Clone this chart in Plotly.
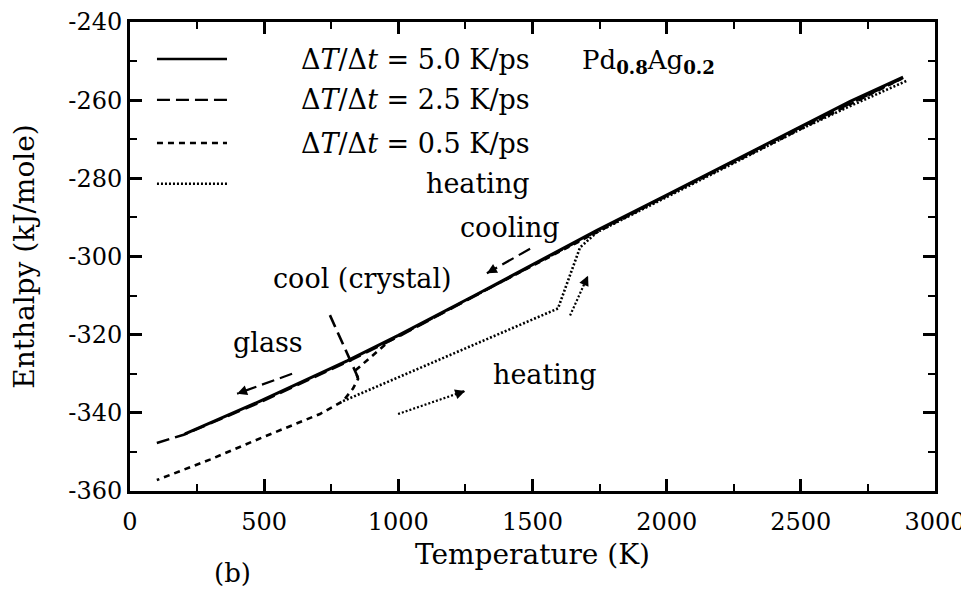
import plotly.graph_objects as go

# ---------------- data ----------------
# cooling 5.0 K/ps (solid)
T_50 = [205, 485, 809, 1000, 1300, 1740, 2000, 2500, 2684, 2881]
H_50 = [-345.4, -337.0, -326.7, -320.2, -309.4, -293.3, -284.3, -266.7, -260.3, -254.1]

# cooling 2.5 K/ps (long dashes)
T_25 = [100, 200, 485, 809, 1000, 1740, 2500, 2881]
H_25 = [-347.7, -345.6, -337.3, -327.0, -320.5, -293.5, -266.9, -254.3]

# cooling 0.5 K/ps (short dashes) - crystallises
T_05 = [2881, 2000, 1300, 969, 839, 850, 831, 794, 708, 500, 300, 100]
H_05 = [-254.3, -284.5, -309.5, -321.5, -329.2, -331.3, -333.8, -337.0, -340.3, -346.1, -351.9, -357.2]

# heating of the crystal (dotted)
T_heat = [794, 1000, 1300, 1595, 1677, 1740, 2000, 2500, 2684, 2896]
H_heat = [-337.0, -330.9, -322.0, -313.3, -297.7, -293.8, -284.8, -267.4, -261.5, -255.0]

# pointer from the "cool (crystal)" label (long dashes)
T_ptr = [745, 850]
H_ptr = [-315.0, -331.0]

# arrows: tail T, tail H, head T, head H, style
ARROW_T0 = [1491, 604, 999, 1640]
ARROW_H0 = [-298.0, -330.0, -340.3, -315.1]
ARROW_T1 = [1330, 399, 1249, 1707]
ARROW_H1 = [-304.3, -335.1, -334.4, -304.9]
ARROW_DASH = ["long", "long", "dot", "dot"]

# text labels in the plot
LABELS = ["cooling", "cool (crystal)", "glass", "heating"]
LABEL_T = [1416, 868, 514, 1547]
LABEL_H = [-292.7, -305.5, -321.9, -330.3]

# legend entries
LEGEND_TEXT = ["Δ<i>T</i>/Δ<i>t</i> = 5.0 K/ps",
               "Δ<i>T</i>/Δ<i>t</i> = 2.5 K/ps",
               "Δ<i>T</i>/Δ<i>t</i> = 0.5 K/ps",
               "heating"]
LEGEND_DASH = ["solid", "long", "short", "dot"]

# ticks
X_TICKS = [0, 500, 1000, 1500, 2000, 2500, 3000]
X_TICKTEXT = ["0", "500", "1000", "1500", "2000", "2500", "3000"]
Y_TICKS = [-360, -340, -320, -300, -280, -260, -240]
Y_TICKTEXT = ["-360", "-340", "-320", "-300", "-280", "-260", "-240"]

# ---------------- styles ----------------
DASH = {"solid": "solid", "long": "13px,6px", "short": "6px,5px", "dot": "2px,2px"}
FONT = "DejaVu Serif"
LW = 2.6

fig = go.Figure()

fig.add_trace(go.Scatter(x=T_heat, y=H_heat, mode="lines",
                         line=dict(color="black", width=LW, dash=DASH["dot"]),
                         name="heating", showlegend=False))
fig.add_trace(go.Scatter(x=T_05, y=H_05, mode="lines",
                         line=dict(color="black", width=LW, dash=DASH["short"]),
                         name="0.5 K/ps", showlegend=False))
fig.add_trace(go.Scatter(x=T_25, y=H_25, mode="lines",
                         line=dict(color="black", width=LW, dash=DASH["long"]),
                         name="2.5 K/ps", showlegend=False))
fig.add_trace(go.Scatter(x=T_ptr, y=H_ptr, mode="lines",
                         line=dict(color="black", width=LW, dash=DASH["long"]),
                         showlegend=False, hoverinfo="skip"))
fig.add_trace(go.Scatter(x=T_50, y=H_50, mode="lines",
                         line=dict(color="black", width=LW + 0.4, dash="solid"),
                         name="5.0 K/ps", showlegend=False))

# arrows: dashed shaft as a trace, head as annotation
for t0, h0, t1, h1, st in zip(ARROW_T0, ARROW_H0, ARROW_T1, ARROW_H1, ARROW_DASH):
    fig.add_trace(go.Scatter(x=[t0, t1], y=[h0, h1], mode="lines",
                             line=dict(color="black", width=2.2, dash=DASH[st]),
                             showlegend=False, hoverinfo="skip"))
    fig.add_annotation(x=t1, y=h1, ax=t1 + (t0 - t1) * 0.12, ay=h1 + (h0 - h1) * 0.12,
                       xref="x", yref="y", axref="x", ayref="y", text="",
                       showarrow=True, arrowhead=2, arrowsize=1.0, arrowwidth=2,
                       arrowcolor="black")

for txt, t, h in zip(LABELS, LABEL_T, LABEL_H):
    fig.add_annotation(x=t, y=h, xref="x", yref="y", text=txt, showarrow=False,
                       font=dict(family=FONT, size=27, color="black"))

# legend drawn by hand (samples + right-aligned text)
LEG_Y = [0.921, 0.834, 0.742, 0.655]
for txt, dsh, yy in zip(LEGEND_TEXT, LEGEND_DASH, LEG_Y):
    fig.add_shape(type="line", xref="paper", yref="paper", x0=0.0335, x1=0.1205,
                  y0=yy, y1=yy, line=dict(color="black", width=2.4, dash=DASH[dsh]))
    fig.add_annotation(x=0.4994, y=yy, xref="paper", yref="paper", text=txt,
                       showarrow=False, xanchor="right", yanchor="middle",
                       font=dict(family=FONT, size=27, color="black"))

fig.add_annotation(x=0.559, y=0.915, xref="paper", yref="paper",
                   text="Pd<sub><b>0.8</b></sub>Ag<sub><b>0.2</b></sub>", showarrow=False,
                   xanchor="left", yanchor="middle",
                   font=dict(family=FONT, size=26, color="black"))

fig.add_annotation(x=(232 - 130) / 805, y=(491 - 573) / 469, xref="paper", yref="paper",
                   text="(b)", showarrow=False, xanchor="center", yanchor="middle",
                   font=dict(family=FONT, size=26, color="black"))

axis_common = dict(showgrid=False, zeroline=False, showline=True, linecolor="black",
                   linewidth=3, mirror="ticks", ticks="inside", ticklen=12,
                   tickwidth=2.5, tickcolor="black", automargin=False,
                   tickfont=dict(family=FONT, size=24, color="black"))

fig.update_xaxes(range=[0, 3000], tickmode="array", tickvals=X_TICKS, ticktext=X_TICKTEXT,
                 ticklabelstandoff=7,
                 minor=dict(ticks="inside", ticklen=7, tickwidth=2, tickcolor="black",
                            dtick=250, tick0=0, showgrid=False),
                 title=dict(text="Temperature (K)", standoff=10,
                            font=dict(family=FONT, size=28, color="black")),
                 **axis_common)
fig.update_yaxes(range=[-360, -240], tickmode="array", tickvals=Y_TICKS, ticktext=Y_TICKTEXT,
                 minor=dict(ticks="inside", ticklen=7, tickwidth=2, tickcolor="black",
                            dtick=10, tick0=-360, showgrid=False),
                 title=dict(text="Enthalpy (kJ/mole)", standoff=29,
                            font=dict(family=FONT, size=28, color="black")),
                 **axis_common)

# the page adds an 8 px body margin, so the margins are offset by 8 px
fig.update_layout(width=969, height=589, margin=dict(l=122, r=42, t=14, b=106),
                  paper_bgcolor="white", plot_bgcolor="rgba(0,0,0,0)",
                  showlegend=False, font=dict(family=FONT, color="black"))

fig.write_html("out.html")
